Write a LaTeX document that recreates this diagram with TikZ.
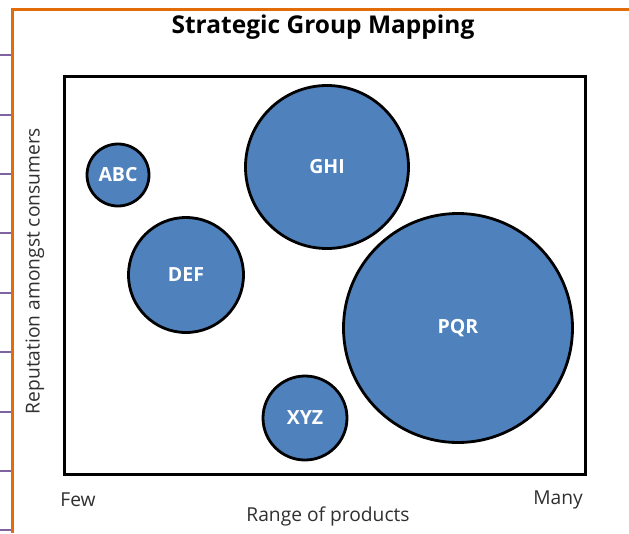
\documentclass[tikz,border=0pt]{standalone}
\usepackage{fontspec}
\setmainfont{Open Sans}
\definecolor{bubblefill}{HTML}{4F81BD}
\definecolor{frameorange}{HTML}{E36C0A}
\definecolor{tickpurple}{HTML}{7F63A1}
\definecolor{axistext}{HTML}{303030}
\tikzset{
  bubble/.style={circle, draw=black, line width=2.8pt, fill=bubblefill, inner sep=0pt,
    text=white, font=\fontsize{19.5}{22}\selectfont\bfseries},
  axislabel/.style={text=axistext, font=\fontsize{19.2}{22}\selectfont, inner sep=0pt},
  tickmark/.style={draw=tickpurple, line width=2.4pt}
}
\begin{document}
\begin{tikzpicture}[x=1pt,y=-1pt]
\useasboundingbox[fill=white] (0,0) rectangle (629,533);
% orange frame
\draw[frameorange, line width=3pt] (12,533) -- (12,9) -- (629,9);
% purple ticks
\foreach \ty in {55,115,174,233,293,352,412,471,530}
  \draw[tickmark] (0,\ty) -- (10.5,\ty);
% title
\node[font=\fontsize{24.5}{28}\selectfont\bfseries, inner sep=0pt] (title) at (323,27) {Strategic Group Mapping};
% plot frame
\draw[black, line width=3pt] (64.5,76.5) rectangle (585.5,474.5);
% bubbles
\node[bubble, minimum size=62pt] (abc) at (118,175) {ABC};
\node[bubble, minimum size=115pt] (def) at (186,275) {DEF};
\node[bubble, minimum size=163pt] (ghi) at (327,167) {GHI};
\node[bubble, minimum size=229pt] (pqr) at (458,328) {PQR};
\node[bubble, minimum size=84pt] (xyz) at (305,418) {XYZ};
% axis labels
\node[axislabel, rotate=90] (ylab) at (35,271) {Reputation amongst consumers};
\node[axislabel] (few) at (78,500) {Few};
\node[axislabel] (many) at (558,500) {Many};
\node[axislabel] (xlab) at (328,516) {Range of products};
\end{tikzpicture}
\end{document}
